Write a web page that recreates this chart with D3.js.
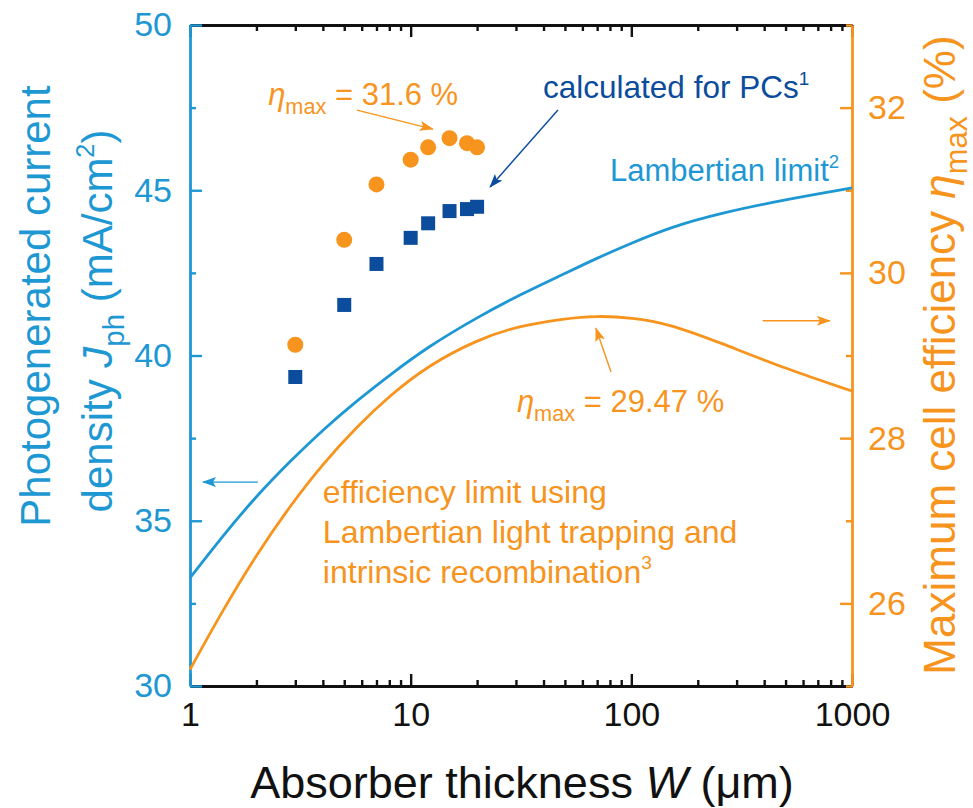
<!DOCTYPE html>
<html>
<head>
<meta charset="utf-8">
<script src="https://cdn.jsdelivr.net/npm/d3@7"></script>
<style>
body { margin: 0; background: #fff; }
svg { font-family: "Liberation Sans", Arial, sans-serif; }
</style>
</head>
<body>
<svg id="chart" width="973" height="808"></svg>
<script>
// photonic crystal (PC) results
var pcThickness = [3, 5, 7, 10, 12, 15, 18, 20];
var pcJph = [39.35, 41.53, 42.77, 43.56, 44.0, 44.37, 44.43, 44.5];
var pcEta = [29.13, 30.40, 31.07, 31.37, 31.52, 31.63, 31.57, 31.52];

// Lambertian limit curves
var limThickness = [1, 1.41, 2, 2.84, 4, 5.7, 8, 12, 20, 30, 50, 70, 100, 150, 250, 500, 1000];
var limJph = [33.27, 34.55, 35.75, 36.8, 37.75, 38.63, 39.4, 40.27, 41.15, 41.78, 42.48, 42.95, 43.4, 43.88, 44.3, 44.72, 45.07];
var limEta = [25.2, 25.92, 26.59, 27.18, 27.69, 28.14, 28.51, 28.88, 29.19, 29.35, 29.45, 29.48, 29.46, 29.38, 29.16, 28.84, 28.57];

// ticks
var xTicks = [1, 10, 100, 1000];
var jTicks = [30, 35, 40, 45, 50];
var jMinor = [32.5, 37.5, 42.5, 47.5];
var eTicks = [26, 28, 30, 32];
var eMinor = [25, 27, 29, 31, 33];

var lightBlue = "#1e98d3",
    darkBlue = "#0b4c9c",
    orange = "#f7941d";

var svg = d3.select("#chart"),
    pLeft = 190, pRight = 852, pTop = 25, pBottom = 686;

var x = d3.scaleLog().domain([1, 1000]).range([pLeft, pRight]);
var yJ = d3.scaleLinear().domain([30, 50]).range([pBottom, pTop]);
var yE = d3.scaleLinear().domain([25, 33]).range([pBottom, pTop]);

var xMinor = x.ticks().filter(function(d) { return xTicks.indexOf(d) < 0; });

function styleAxis(g, color, size) {
  g.attr("font-family", null).attr("font-size", size);
  g.select(".domain").attr("stroke", color).attr("stroke-width", 2.8);
  g.selectAll(".tick line").attr("stroke", color).attr("stroke-width", 2.4);
  g.selectAll(".tick text").attr("fill", color);
}

function addAxis(axis, tr, color, noDomain) {
  var g = svg.append("g").attr("transform", tr).call(axis);
  styleAxis(g, color, 34);
  if (noDomain) g.select(".domain").remove();
  return g;
}

// top and bottom (black) first, coloured y axes over them
addAxis(d3.axisBottom(x).tickValues(xTicks).tickFormat(d3.format("d")).tickSize(-12).tickSizeOuter(0).tickPadding(16),
  "translate(0," + pBottom + ")", "#111");
addAxis(d3.axisBottom(x).tickValues(xMinor).tickFormat("").tickSize(-6).tickSizeOuter(0),
  "translate(0," + pBottom + ")", "#111", true);
addAxis(d3.axisTop(x).tickValues(xTicks).tickFormat("").tickSize(-12).tickSizeOuter(0),
  "translate(0," + pTop + ")", "#111");
addAxis(d3.axisTop(x).tickValues(xMinor).tickFormat("").tickSize(-6).tickSizeOuter(0),
  "translate(0," + pTop + ")", "#111", true);

addAxis(d3.axisLeft(yJ).tickValues(jTicks).tickSize(-12).tickSizeOuter(0).tickPadding(18),
  "translate(" + pLeft + ",0)", lightBlue);
addAxis(d3.axisLeft(yJ).tickValues(jMinor).tickFormat("").tickSize(-6).tickSizeOuter(0),
  "translate(" + pLeft + ",0)", lightBlue, true);

addAxis(d3.axisRight(yE).tickValues(eTicks).tickSize(-12).tickSizeOuter(0).tickPadding(16),
  "translate(" + pRight + ",0)", orange);
addAxis(d3.axisRight(yE).tickValues(eMinor).tickFormat("").tickSize(-6).tickSizeOuter(0),
  "translate(" + pRight + ",0)", orange, true);

// curves
var jLine = d3.line()
  .x(function(d, i) { return x(limThickness[i]); })
  .y(function(d) { return yJ(d); })
  .curve(d3.curveBasis);
var eLine = d3.line()
  .x(function(d, i) { return x(limThickness[i]); })
  .y(function(d) { return yE(d); })
  .curve(d3.curveBasis);

svg.append("path").datum(limJph)
  .attr("d", jLine).attr("fill", "none").attr("stroke", lightBlue).attr("stroke-width", 2.8);
svg.append("path").datum(limEta)
  .attr("d", eLine).attr("fill", "none").attr("stroke", orange).attr("stroke-width", 2.8);

// PC points
svg.selectAll(".sq").data(pcJph).enter().append("rect")
  .attr("class", "sq")
  .attr("x", function(d, i) { return x(pcThickness[i]) - 7; })
  .attr("y", function(d) { return yJ(d) - 7; })
  .attr("width", 14).attr("height", 14)
  .attr("fill", darkBlue);

svg.selectAll(".dot").data(pcEta).enter().append("circle")
  .attr("class", "dot")
  .attr("cx", function(d, i) { return x(pcThickness[i]); })
  .attr("cy", function(d) { return yE(d); })
  .attr("r", 8)
  .attr("fill", orange);

// rich text helper: parts = [text, style]
function richText(g, parts, size, color) {
  var t = g.append("text").attr("fill", color).attr("font-size", size);
  var shift = 0;
  parts.forEach(function(p) {
    var ts = t.append("tspan").text(p[0]);
    var want = 0;
    if (p[1] == "i") ts.attr("font-style", "italic");
    if (p[1] == "sub") { ts.attr("font-size", size * 0.7); want = size * 0.28; }
    if (p[1] == "sup") { ts.attr("font-size", size * 0.6); want = -size * 0.42; }
    if (want != shift) { ts.attr("dy", want - shift); shift = want; }
  });
  return t;
}

// axis titles
richText(svg.append("g").attr("transform", "translate(522,798)"),
  [["Absorber thickness "], ["W", "i"], [" (μm)"]], 45, "#111").attr("text-anchor", "middle");

richText(svg.append("g").attr("transform", "translate(50,306) rotate(-90)"),
  [["Photogenerated current"]], 42, lightBlue).attr("text-anchor", "middle");
richText(svg.append("g").attr("transform", "translate(112,321) rotate(-90)"),
  [["density "], ["J", "i"], ["ph", "sub"], [" (mA/cm"], ["2", "sup"], [")"]], 42, lightBlue).attr("text-anchor", "middle");

richText(svg.append("g").attr("transform", "translate(955,355) rotate(-90)"),
  [["Maximum cell efficiency "], ["η", "i"], ["max", "sub"], [" (%)"]], 44, orange).attr("text-anchor", "middle");

// annotations (positions in data units)
function at(w, j) { return "translate(" + x(w) + "," + yJ(j) + ")"; }

richText(svg.append("g").attr("transform", at(2.26, 47.58)),
  [["η", "i"], ["max", "sub"], [" = 31.6 %"]], 31, orange);
richText(svg.append("g").attr("transform", at(39.8, 47.79)),
  [["calculated for PCs"], ["1", "sup"]], 31.5, darkBlue);
richText(svg.append("g").attr("transform", at(80, 45.28)),
  [["Lambertian limit"], ["2", "sup"]], 31, lightBlue);
richText(svg.append("g").attr("transform", at(30.3, 38.29)),
  [["η", "i"], ["max", "sub"], [" = 29.47 %"]], 31, orange);

var noteLines = ["efficiency limit using", "Lambertian light trapping and", "intrinsic recombination"];
noteLines.forEach(function(s, i) {
  var parts = [[s]];
  if (i == 2) parts.push(["3", "sup"]);
  richText(svg.append("g").attr("transform", at(4.0, 35.54) + " translate(0," + (i * 40) + ")"),
    parts, 32, orange);
});

// arrows
var defs = svg.append("defs");
[["ab", lightBlue], ["ad", darkBlue], ["ao", orange]].forEach(function(m) {
  defs.append("marker").attr("id", m[0])
    .attr("viewBox", "0 0 14 10").attr("refX", 13).attr("refY", 5)
    .attr("markerWidth", 15).attr("markerHeight", 10)
    .attr("markerUnits", "userSpaceOnUse").attr("orient", "auto")
    .append("path").attr("d", "M0,0 L14,5 L0,10 L3,5 z").attr("fill", m[1]);
});

// [w1, v1, w2, v2, axis, marker, colour]
var arrows = [
  [2.03, 36.17, 1.145, 36.17, "J", "ab", lightBlue],
  [394, 29.42, 794, 29.42, "E", "ao", orange],
  [80.9, 28.80, 69.1, 29.33, "E", "ao", orange],
  [5.71, 31.97, 12.6, 31.74, "E", "ao", orange],
  [46.5, 47.43, 22.9, 45.1, "J", "ad", darkBlue]
];
arrows.forEach(function(a) {
  var ys = a[4] == "J" ? yJ : yE;
  svg.append("line")
    .attr("x1", x(a[0])).attr("y1", ys(a[1]))
    .attr("x2", x(a[2])).attr("y2", ys(a[3]))
    .attr("stroke", a[6]).attr("stroke-width", 1.4)
    .attr("marker-end", "url(#" + a[5] + ")");
});
</script>
</body>
</html>
